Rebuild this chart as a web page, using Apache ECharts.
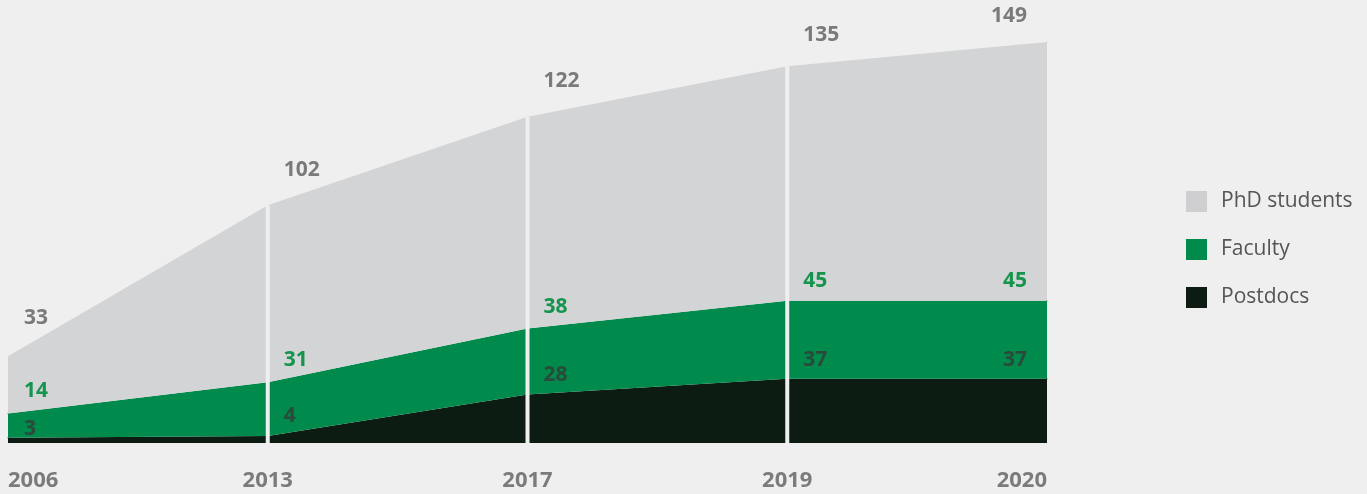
<!DOCTYPE html>
<html>
<head>
<meta charset="utf-8">
<script src="https://cdn.jsdelivr.net/npm/echarts@6/dist/echarts.min.js"></script>
<style>
  html, body { margin: 0; padding: 0; background: #efefef; }
  #chart { width: 1367px; height: 494px; }
</style>
</head>
<body>
<div id="chart"></div>
<script type="text/javascript">
  // data
  var years = ['2006', '2013', '2017', '2019', '2020'];
  var postdocs = [3, 4, 28, 37, 37];
  var faculty = [14, 31, 38, 45, 45];
  var phd = [33, 102, 122, 135, 149];
  var dividerYears = ['2013', '2017', '2019'];

  var chart = echarts.init(document.getElementById('chart'));

  // label nudges (px, up is negative) so numbers sit where the original has them
  var postdocsLift = [7, -4, -3, -3, -3];
  var facultyLift = [-6, -6, -5, -4, -4];
  var phdLift = [-22, -19, -20, -15, -10];

  // last point has its label tucked to the left of the edge
  function withLabels(values, lift) {
    return values.map(function (v, i) {
      var last = i === values.length - 1;
      return {
        value: v,
        label: {
          align: last ? 'right' : 'left',
          offset: [last ? -20 : 16, lift[i]]
        }
      };
    });
  }

  // separator bars, as tall as the whole stack
  var totals = years.map(function (y, i) {
    return dividerYears.indexOf(y) >= 0 ? postdocs[i] + faculty[i] + phd[i] : '-';
  });

  var labelFont = 'Open Sans';

  function areaSeries(name, values, lift, color, labelColor) {
    return {
      name: name,
      type: 'line',
      stack: 'all',
      data: withLabels(values, lift),
      symbol: 'circle',
      symbolSize: 1,
      showSymbol: true,
      lineStyle: { width: 0 },
      itemStyle: { color: color },
      areaStyle: { color: color, opacity: 1 },
      label: {
        show: true,
        position: 'top',
        color: labelColor,
        fontSize: 21,
        fontWeight: 'bold',
        fontFamily: labelFont
      },
      z: 3
    };
  }

  var option = {
    backgroundColor: '#efefef',
    animation: false,
    textStyle: { fontFamily: labelFont },
    grid: { left: 8, right: 320, top: 9, bottom: 51 },
    legend: {
      orient: 'vertical',
      left: 1186,
      top: 191,
      padding: 0,
      itemWidth: 21,
      itemHeight: 21,
      itemGap: 27,
      icon: 'rect',
      data: [
        { name: 'PhD students', itemStyle: { color: '#cfcfd1' } },
        { name: 'Faculty', itemStyle: { color: '#008a4b' } },
        { name: 'Postdocs', itemStyle: { color: '#0d1c13' } }
      ],
      textStyle: { color: '#555', fontSize: 21, fontFamily: labelFont, padding: [0, 0, 0, 9] }
    },
    xAxis: {
      type: 'category',
      boundaryGap: false,
      data: years,
      axisLine: { show: false },
      axisTick: { show: false },
      axisLabel: {
        margin: 27,
        color: '#7b7b7d',
        fontSize: 22,
        fontWeight: 'bold',
        fontFamily: labelFont,
        alignMinLabel: 'left',
        alignMaxLabel: 'right'
      }
    },
    yAxis: {
      type: 'value',
      min: 0,
      max: 250,
      show: false,
      splitLine: { show: false }
    },
    series: [
      areaSeries('Postdocs', postdocs, postdocsLift, '#0d1c13', '#2a4a3c'),
      areaSeries('Faculty', faculty, facultyLift, '#008a4b', '#15944d'),
      areaSeries('PhD students', phd, phdLift, '#d3d4d6', '#7a7a7c'),
      {
        name: 'divider',
        type: 'bar',
        data: totals,
        barWidth: 4,
        itemStyle: { color: '#efefef' },
        silent: true,
        z: 4
      }
    ]
  };
  chart.setOption(option);
  window.onresize = function () {
    chart.resize();
  };
</script>
</body>
</html>
